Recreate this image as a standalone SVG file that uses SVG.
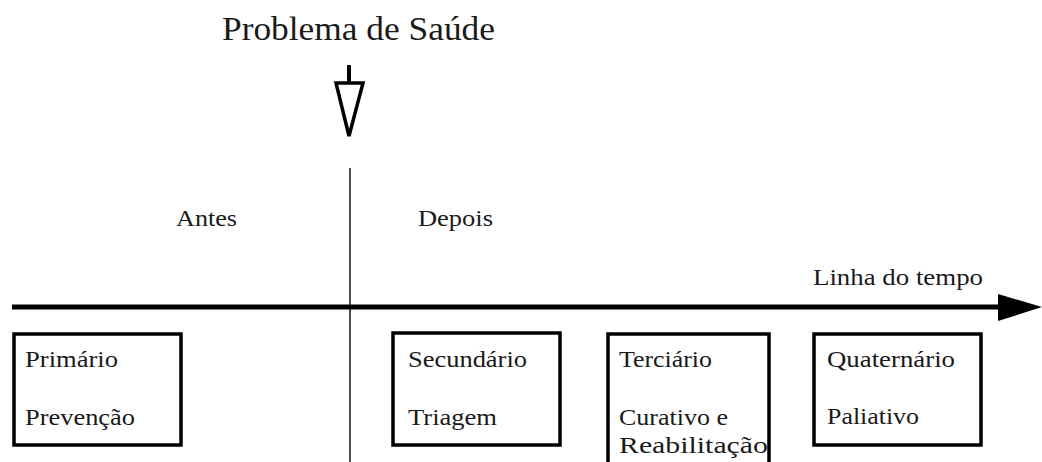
<svg xmlns="http://www.w3.org/2000/svg" width="1042" height="462" viewBox="0 0 1042 462">
<style>
text{font-family:"Liberation Serif","Times New Roman",serif;fill:#1a1a1a}
.t{font-size:24px}
.box{fill:none;stroke:#000;stroke-width:3.5}
</style>
<rect width="1042" height="462" fill="#fff"/>
<g id="connectors">
<line x1="350" y1="168" x2="350" y2="462" stroke="#222" stroke-width="1.6"/>
<line x1="12" y1="307" x2="1000" y2="307" stroke="#000" stroke-width="5"/>
<polygon points="998,294 1042,307 998,321" fill="#000"/>
<line x1="349" y1="65" x2="349" y2="84" stroke="#000" stroke-width="4"/>
<polygon points="336,83 363,83 349,136" fill="#fff" stroke="#000" stroke-width="3.5" stroke-linejoin="miter"/>
</g>
<g id="title"><text x="222" y="40" font-size="34" textLength="273" lengthAdjust="spacingAndGlyphs">Problema de Saúde</text></g>
<g id="antes"><text class="t" x="176" y="226" textLength="61" lengthAdjust="spacingAndGlyphs">Antes</text></g>
<g id="depois"><text class="t" x="418" y="226" textLength="75" lengthAdjust="spacingAndGlyphs">Depois</text></g>
<g id="linha"><text class="t" x="813" y="285" textLength="170" lengthAdjust="spacingAndGlyphs">Linha do tempo</text></g>
<g id="primario">
<rect class="box" x="14" y="334" width="167" height="111"/>
<text class="t" x="25" y="367" textLength="93" lengthAdjust="spacingAndGlyphs">Primário</text>
<text class="t" x="25" y="425" textLength="110" lengthAdjust="spacingAndGlyphs">Prevenção</text>
</g>
<g id="secundario">
<rect class="box" x="393" y="333" width="167" height="112"/>
<text class="t" x="408" y="367" textLength="119" lengthAdjust="spacingAndGlyphs">Secundário</text>
<text class="t" x="408" y="425" textLength="89" lengthAdjust="spacingAndGlyphs">Triagem</text>
</g>
<g id="terciario">
<rect class="box" x="608" y="334" width="161" height="140"/>
<text class="t" x="619" y="367" textLength="93" lengthAdjust="spacingAndGlyphs">Terciário</text>
<text class="t" x="619" y="425" textLength="109" lengthAdjust="spacingAndGlyphs">Curativo e</text>
<text class="t" x="619" y="453" textLength="149" lengthAdjust="spacingAndGlyphs">Reabilitação</text>
</g>
<g id="quaternario">
<rect class="box" x="814" y="334" width="167" height="111"/>
<text class="t" x="827" y="367" textLength="128" lengthAdjust="spacingAndGlyphs">Quaternário</text>
<text class="t" x="827" y="424" textLength="92" lengthAdjust="spacingAndGlyphs">Paliativo</text>
</g>
</svg>
